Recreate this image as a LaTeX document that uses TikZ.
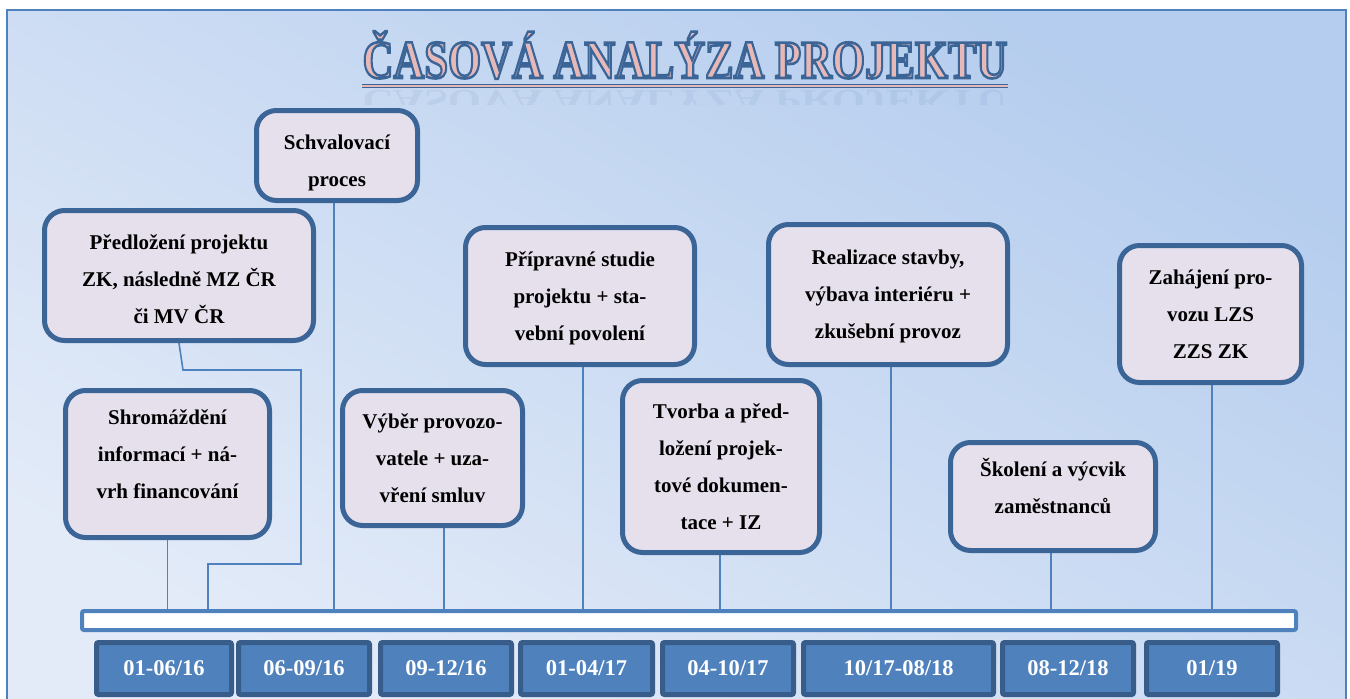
\documentclass[tikz,border=0pt]{standalone}
\usepackage{fontspec}
\setmainfont{Liberation Serif}
\usetikzlibrary{backgrounds}
\definecolor{boxb}{HTML}{3B6497}
\definecolor{boxf}{HTML}{E5E0EC}
\definecolor{lineb}{HTML}{4F81BD}
\definecolor{datef}{HTML}{4F81BD}
\definecolor{dateb}{HTML}{385D8A}
\definecolor{tpink}{HTML}{E6B9B8}
\definecolor{bgdark}{HTML}{B5CDEE}
\definecolor{bglight}{HTML}{E3EBF8}
\newcommand{\ttltxt}{ČASOVÁ ANALÝZA PROJEKTU}
\newcommand{\evt}[2]{\raisebox{#1}[\height][\depth]{\begin{tabular}{@{}c@{}}#2\end{tabular}}}
\begin{document}
\begin{tikzpicture}[x=1pt,y=-1pt,
  ev/.style={draw=boxb, line width=5pt, fill=boxf, rounded corners=20pt,
    font=\fontsize{21}{37}\selectfont\bfseries, inner sep=0pt, text=black},
  datebox/.style={draw=dateb, line width=5pt, fill=datef, rounded corners=2pt,
    minimum height=52pt, inner sep=0pt, text=white, font=\fontsize{22.5}{26}\selectfont\bfseries},
  conn/.style={draw=lineb, line width=1.6pt},
  ttl/.style={font=\fontsize{54}{60}\selectfont\bfseries, xscale=0.79, anchor=base, inner sep=0pt}]
\useasboundingbox (0,0) rectangle (1350,699);
% frame and background
\begin{pgfonlayer}{background}
\fill[white] (0,0) rectangle (1350,699);
\shade[top color=bgdark, bottom color=bglight, shading angle=-30] (7,10) rectangle (1346,705);
\draw[lineb, line width=2pt] (7,705) -- (7,10) -- (1346,10) -- (1346,705);
\end{pgfonlayer}
% title: pink fill with blue outline (text render mode 2)
\node[ttl, text=tpink] (title) at (685,78) {\special{pdf:literal direct 0.231 0.392 0.592 RG 2.6 w 2 Tr}\ttltxt\special{pdf:literal direct 0 Tr}};
\draw[boxb, line width=4.5pt] (362,86) -- (1008,86);
\draw[tpink, line width=1.5pt] (362,86) -- (1008,86);
\begin{scope}
\clip (350,89) rectangle (1020,104);
\node[ttl, text=boxb, opacity=0.08, yscale=-0.6] (refl) at (685,90) {\ttltxt};
\end{scope}
% event boxes
\node[ev, minimum width=204pt, minimum height=147pt] (shrom) at (167.5,464) {\evt{10pt}{Shromáždění\\informací + ná-\\vrh financování}};
\node[ev, minimum width=269pt, minimum height=130pt] (predl) at (179,275.5) {\evt{-4pt}{Předložení projektu\\ZK, následně MZ ČR\\či MV ČR}};
\node[ev, minimum width=161pt, minimum height=90pt] (schv) at (337,155.5) {\evt{-5pt}{Schvalovací\\proces}};
\node[ev, minimum width=180pt, minimum height=135pt] (vyber) at (432.5,458) {\evt{0pt}{Výběr provozo-\\vatele + uza-\\vření smluv}};
\node[ev, minimum width=229pt, minimum height=137pt] (prip) at (580,296) {\evt{0pt}{Přípravné studie\\projektu + sta-\\vební povolení}};
\node[ev, minimum width=197pt, minimum height=172pt] (tvorba) at (721,466.5) {\evt{0pt}{Tvorba a před-\\ložení projek-\\tové dokumen-\\tace + IZ}};
\node[ev, minimum width=239pt, minimum height=140pt] (real) at (888,294.5) {\evt{0pt}{Realizace stavby,\\výbava interiéru +\\zkušební provoz}};
\node[ev, minimum width=205pt, minimum height=108pt] (skol) at (1053,496.5) {\evt{9pt}{Školení a výcvik\\zaměstnanců}};
\node[ev, minimum width=182pt, minimum height=137pt] (zah) at (1210.5,314) {\evt{0pt}{Zahájení pro-\\vozu LZS\\ZZS ZK}};
% timeline bar
\node[draw=lineb, line width=4pt, fill=white, rounded corners=2pt, minimum width=1214pt, minimum height=19pt, inner sep=0pt] (bar) at (689,620.5) {};
% date boxes
\node[datebox, minimum width=135pt] (d1) at (164,668.5) {01-06/16};
\node[datebox, minimum width=131pt] (d2) at (304,668.5) {06-09/16};
\node[datebox, minimum width=131pt] (d3) at (446,668.5) {09-12/16};
\node[datebox, minimum width=132pt] (d4) at (586.5,668.5) {01-04/17};
\node[datebox, minimum width=131pt] (d5) at (728,668.5) {04-10/17};
\node[datebox, minimum width=190pt] (d6) at (898.5,668.5) {10/17-08/18};
\node[datebox, minimum width=131pt] (d7) at (1068,668.5) {08-12/18};
\node[datebox, minimum width=131pt] (d8) at (1212,668.5) {01/19};
% connectors
\begin{pgfonlayer}{background}
\coordinate (p1) at (183,370);
\coordinate (p2) at (301,370);
\coordinate (p3) at (301,564);
\coordinate (p4) at (208,564);
\draw[conn] (shrom.south) -- (shrom.south |- bar.north);
\draw[conn] (predl.south) -- (p1) -- (p2) -- (p3) -- (p4) -- (p4 |- bar.north);
\draw[conn] ([xshift=-3pt]schv.south) -- ([xshift=-3pt]schv.south |- bar.north);
\draw[conn] ([xshift=11.5pt]vyber.south) -- ([xshift=11.5pt]vyber.south |- bar.north);
\draw[conn] ([xshift=3pt]prip.south) -- ([xshift=3pt]prip.south |- bar.north);
\draw[conn] ([xshift=-1pt]tvorba.south) -- ([xshift=-1pt]tvorba.south |- bar.north);
\draw[conn] ([xshift=3pt]real.south) -- ([xshift=3pt]real.south |- bar.north);
\draw[conn] ([xshift=-2pt]skol.south) -- ([xshift=-2pt]skol.south |- bar.north);
\draw[conn] ([xshift=1.5pt]zah.south) -- ([xshift=1.5pt]zah.south |- bar.north);
\end{pgfonlayer}
\end{tikzpicture}
\end{document}
